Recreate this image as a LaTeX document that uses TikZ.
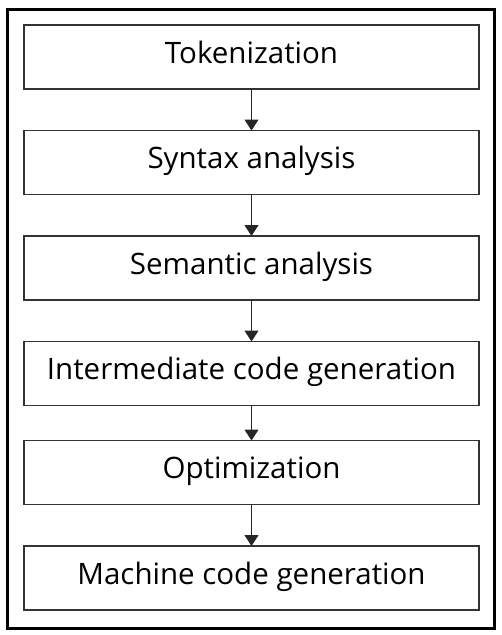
\documentclass[tikz,border=0pt]{standalone}
\usepackage{fontspec}
\setmainfont{Open Sans}
\usetikzlibrary{positioning,arrows.meta}
\begin{document}
\begin{tikzpicture}[x=1pt, y=-1pt, node distance=41.5pt]
    \tikzstyle{stage} = [rectangle, minimum width=455pt, minimum height=64pt, inner sep=0pt, outer sep=0pt, text centered, draw=black!80, line width=1.2pt, text height=21pt, text depth=9pt, font=\fontsize{29.5}{32}\selectfont]
    \tikzstyle{flow} = [-{Triangle[width=14pt, length=11pt]}, line width=1.1pt, draw=black!85]
    \useasboundingbox (0,0) rectangle (502,635);

    % Outer frame
    \draw [line width=3pt] (7,9) rectangle (494.5,628);

    % Compiler stages
    \node [stage] at (251.5,57) (tokenization) {Tokenization};
    \node [stage, below=of tokenization] (syntax) {Syntax analysis};
    \node [stage, below=of syntax] (semantic) {Semantic analysis};
    \node [stage, below=of semantic] (intermediate) {Intermediate code generation};
    \node [stage, below=35pt of intermediate] (optimization) {Optimization};
    \node [stage, below=of optimization] (machine) {Machine code generation};

    % Connections
    \draw [flow] (tokenization) -- (syntax);
    \draw [flow] (syntax) -- (semantic);
    \draw [flow] (semantic) -- (intermediate);
    \draw [flow] (intermediate) -- (optimization);
    \draw [flow] (optimization) -- (machine);
\end{tikzpicture}
\end{document}
